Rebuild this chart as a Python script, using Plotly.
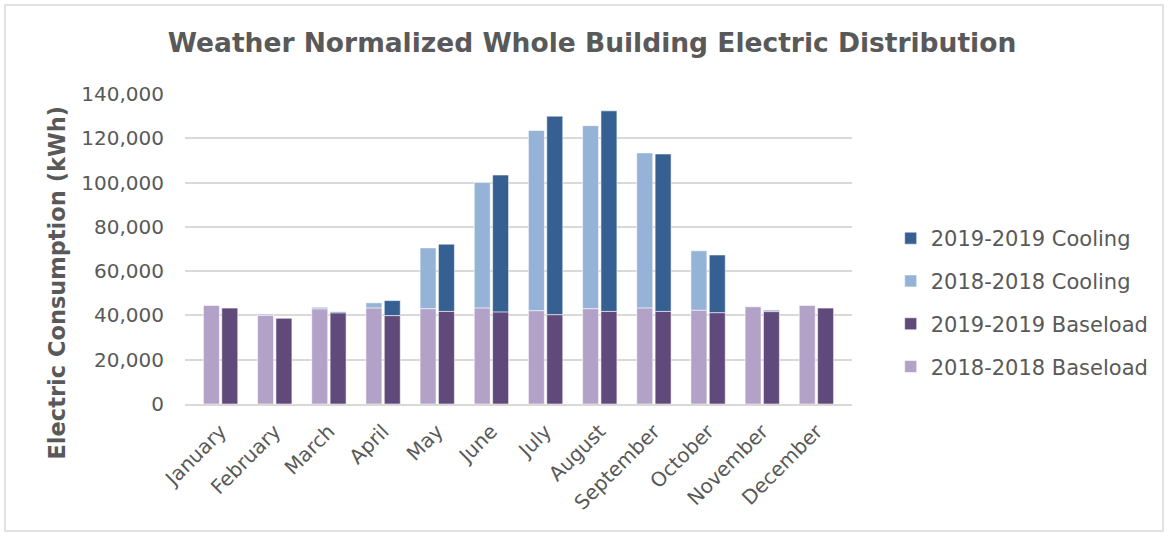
import plotly.graph_objects as go

months = ["January", "February", "March", "April", "May", "June", "July",
          "August", "September", "October", "November", "December"]

baseload_2018 = [44500, 40000, 42900, 43300, 43000, 43300, 42100, 43000, 43300, 42300, 43900, 44500]
cooling_2018 = [0, 600, 800, 2400, 27500, 56700, 81400, 82700, 70100, 26900, 0, 0]
baseload_2019 = [43300, 38700, 41100, 39900, 41800, 41500, 40300, 41800, 41800, 41200, 41700, 43300]
cooling_2019 = [0, 0, 500, 6800, 30400, 61900, 89700, 90600, 71100, 26100, 600, 0]

y_ticks = [0, 20000, 40000, 60000, 80000, 100000, 120000, 140000]
y_tick_text = ["0", "20,000", "40,000", "60,000", "80,000", "100,000", "120,000", "140,000"]

C_COOL_19 = "#366092"
C_COOL_18 = "#95B3D7"
C_BASE_19 = "#604A7B"
C_BASE_18 = "#B3A2C7"
TXT = "#595959"
FONT = "DejaVu Sans"

BAR_W = 0.295
OFF_18 = -0.317
OFF_19 = 0.022
edge = dict(color="rgba(255,255,255,0.55)", width=1)

fig = go.Figure()

# cooling sits on top of the baseload of the same year
fig.add_trace(go.Bar(x=months, y=cooling_2019, base=baseload_2019, name="2019-2019 Cooling",
                     marker=dict(color=C_COOL_19, line=edge), width=BAR_W, offset=OFF_19,
                     legendgroup="c19"))
fig.add_trace(go.Bar(x=months, y=cooling_2018, base=baseload_2018, name="2018-2018 Cooling",
                     marker=dict(color=C_COOL_18, line=edge), width=BAR_W, offset=OFF_18,
                     legendgroup="c18"))
fig.add_trace(go.Bar(x=months, y=baseload_2019, name="2019-2019 Baseload",
                     marker=dict(color=C_BASE_19, line=edge), width=BAR_W, offset=OFF_19,
                     legendgroup="b19"))
fig.add_trace(go.Bar(x=months, y=baseload_2018, name="2018-2018 Baseload",
                     marker=dict(color=C_BASE_18, line=edge), width=BAR_W, offset=OFF_18,
                     legendgroup="b18"))

fig.update_layout(
    width=1169, height=536,
    margin=dict(l=185, r=317, t=94, b=132),
    paper_bgcolor="white", plot_bgcolor="white",
    barmode="overlay",
    font=dict(family=FONT, color=TXT, size=20),
    title=dict(text="<b>Weather Normalized Whole Building Electric Distribution</b>",
               x=592 / 1169, xanchor="center", xref="container",
               y=1 - 43 / 536, yanchor="middle", yref="container",
               font=dict(family=FONT, size=26.5, color=TXT)),
    legend=dict(x=1.058, xanchor="left", y=(404 - 218) / 310, yanchor="top",
                font=dict(family=FONT, size=21, color=TXT),
                traceorder="grouped", tracegroupgap=12.5,
                bgcolor="rgba(0,0,0,0)"),
    showlegend=True,
)

fig.update_xaxes(
    type="category", range=[-0.657, 11.657],
    tickangle=-45, tickfont=dict(family=FONT, size=20, color=TXT),
    showgrid=False, showline=True, linecolor="#D9D9D9", linewidth=1.5,
    ticks="", ticklabelstandoff=6,
)
fig.update_yaxes(
    range=[0, 140000], tickvals=y_ticks, ticktext=y_tick_text,
    tickfont=dict(family=FONT, size=20, color=TXT),
    showgrid=True, gridcolor="#D9D9D9", gridwidth=1.5,
    zeroline=False, showline=False, ticks="", ticklabelstandoff=20,
)

fig.add_annotation(text="<b>Electric Consumption (kWh)</b>", textangle=-90,
                   xref="paper", yref="paper", x=(56.5 - 185) / 667, y=(404 - 283) / 310,
                   xanchor="center", yanchor="middle", showarrow=False,
                   font=dict(family=FONT, size=22.5, color=TXT))

# light frame around the chart area
fig.add_shape(type="rect", xref="paper", yref="paper",
              x0=(5 - 185) / 667, x1=(1163 - 185) / 667,
              y0=(404 - 531) / 310, y1=(404 - 5) / 310,
              line=dict(color="#D9D9D9", width=1.5), layer="below")

fig.write_html("out.html")
